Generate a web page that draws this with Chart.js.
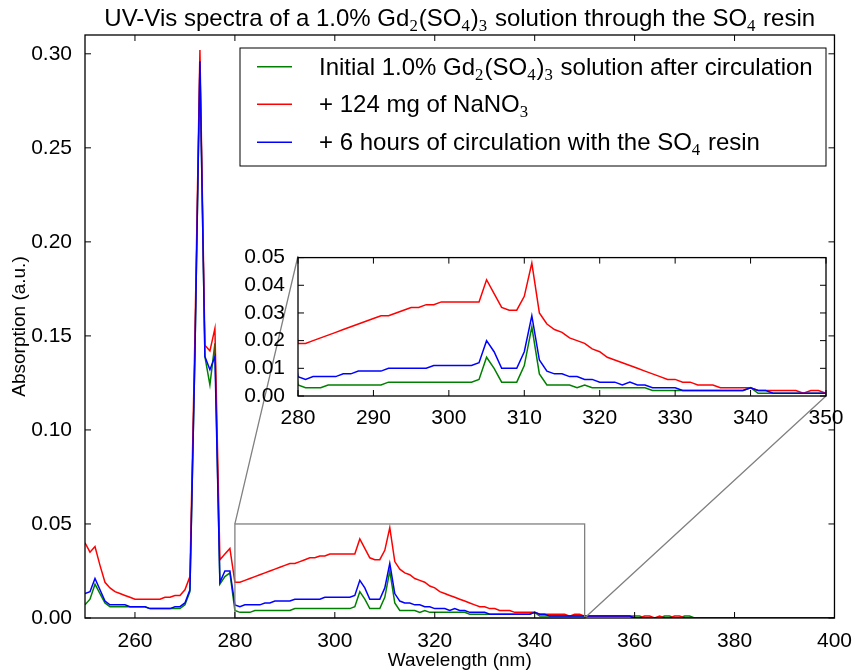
<!DOCTYPE html>
<html>
<head>
<meta charset="utf-8">
<script src="https://cdn.jsdelivr.net/npm/chart.js@4.4.1/dist/chart.umd.min.js"></script>
<style>
  body { margin: 0; background: #fff; }
  #wrap { position: relative; width: 855px; height: 672px; }
  #main { position: absolute; left: 0; top: 0; }
  #inset { position: absolute; left: 240px; top: 240px; }
</style>
</head>
<body>
<div id="wrap">
  <canvas id="main" width="855" height="672"></canvas>
  <canvas id="inset" width="615" height="190"></canvas>
</div>
<script>
// wavelength axis (nm), one reading per nm
const wavelengths = [
  250,251,252,253,254,255,256,257,258,259,
  260,261,262,263,264,265,266,267,268,269,
  270,271,272,273,274,275,276,277,278,279,
  280,281,282,283,284,285,286,287,288,289,
  290,291,292,293,294,295,296,297,298,299,
  300,301,302,303,304,305,306,307,308,309,
  310,311,312,313,314,315,316,317,318,319,
  320,321,322,323,324,325,326,327,328,329,
  330,331,332,333,334,335,336,337,338,339,
  340,341,342,343,344,345,346,347,348,349,
  350,351,352,353,354,355,356,357,358,359,
  360,361,362,363,364,365,366,367,368,369,
  370,371,372,373,374,375,376,377,378,379,
  380,381,382,383,384,385,386,387,388,389,
  390,391,392,393,394,395,396,397,398,399,
  400
];

// green: initial solution after circulation
const initialSolution = [
  0.007,0.010,0.018,0.013,0.008,0.006,0.006,0.006,0.006,0.006,
  0.006,0.006,0.006,0.005,0.005,0.005,0.005,0.005,0.005,0.005,
  0.007,0.014,0.140,0.294,0.139,0.124,0.146,0.018,0.022,0.024,
  0.004,0.003,0.003,0.003,0.004,0.004,0.004,0.004,0.004,0.004,
  0.004,0.004,0.005,0.005,0.005,0.005,0.005,0.005,0.005,0.005,
  0.005,0.005,0.005,0.005,0.006,0.014,0.010,0.005,0.005,0.005,
  0.011,0.025,0.008,0.004,0.004,0.004,0.004,0.003,0.004,0.003,
  0.003,0.003,0.003,0.003,0.003,0.003,0.003,0.002,0.002,0.002,
  0.002,0.002,0.002,0.002,0.002,0.002,0.002,0.002,0.002,0.002,
  0.003,0.001,0.001,0.001,0.001,0.001,0.001,0.001,0.001,0.001,
  0.001,0.001,0.001,0.001,0.001,0.001,0.001,0.001,0.001,0.001,
  0.001,0.001,0.000,0.000,0.000,0.000,0.001,0.001,0.000,0.000,
  0.001,0.001,0.000,0.000,0.000,0.000,0.000,0.000,0.000,0.000,
  0.000,0.000,0.000,0.000,0.000,0.000,0.000,0.000,0.000,0.000,
  0.000,0.000,0.000,0.000,0.000,0.000,0.000,0.000,0.000,0.000,
  0.000
];

// red: + 124 mg NaNO3
const withNitrate = [
  0.040,0.035,0.038,0.028,0.019,0.016,0.014,0.013,0.012,0.011,
  0.010,0.010,0.010,0.010,0.010,0.010,0.011,0.011,0.012,0.012,
  0.015,0.022,0.150,0.302,0.145,0.142,0.154,0.031,0.034,0.037,
  0.019,0.019,0.020,0.021,0.022,0.023,0.024,0.025,0.026,0.027,
  0.028,0.029,0.029,0.030,0.031,0.032,0.032,0.033,0.033,0.034,
  0.034,0.034,0.034,0.034,0.034,0.042,0.037,0.032,0.031,0.031,
  0.036,0.048,0.030,0.026,0.024,0.023,0.021,0.020,0.019,0.017,
  0.016,0.014,0.013,0.012,0.011,0.010,0.009,0.008,0.007,0.006,
  0.006,0.005,0.005,0.004,0.004,0.004,0.003,0.003,0.003,0.003,
  0.003,0.002,0.002,0.002,0.002,0.002,0.002,0.001,0.002,0.002,
  0.001,0.001,0.001,0.001,0.001,0.001,0.001,0.001,0.001,0.001,
  0.000,0.000,0.001,0.001,0.000,0.001,0.000,0.000,0.001,0.001,
  0.000,0.000,0.000,0.000,0.000,0.000,0.000,0.000,0.000,0.000,
  0.000,0.000,0.000,0.000,0.000,0.000,0.000,0.000,0.000,0.000,
  0.000,0.000,0.000,0.000,0.000,0.000,0.000,0.000,0.000,0.000,
  0.000
];

// blue: + 6 h circulation through the SO4 resin
const afterResin = [
  0.013,0.014,0.021,0.015,0.009,0.007,0.007,0.007,0.007,0.006,
  0.006,0.006,0.006,0.005,0.005,0.005,0.005,0.005,0.006,0.006,
  0.008,0.015,0.140,0.296,0.139,0.132,0.139,0.019,0.025,0.025,
  0.007,0.006,0.007,0.007,0.007,0.007,0.008,0.008,0.009,0.009,
  0.009,0.009,0.010,0.010,0.010,0.010,0.010,0.010,0.011,0.011,
  0.011,0.011,0.011,0.011,0.012,0.020,0.016,0.010,0.010,0.010,
  0.016,0.029,0.013,0.009,0.008,0.008,0.007,0.007,0.006,0.006,
  0.005,0.005,0.005,0.004,0.005,0.004,0.004,0.003,0.003,0.003,
  0.003,0.002,0.002,0.002,0.002,0.002,0.002,0.002,0.002,0.002,
  0.003,0.002,0.002,0.001,0.001,0.001,0.001,0.001,0.001,0.001,
  0.001,0.001,0.001,0.001,0.001,0.001,0.001,0.001,0.001,0.001,
  0.000,0.000,0.000,0.000,0.000,0.000,0.000,0.000,0.000,0.000,
  0.000,0.000,0.000,0.000,0.000,0.000,0.000,0.000,0.000,0.000,
  0.000,0.000,0.000,0.000,0.000,0.000,0.000,0.000,0.000,0.000,
  0.000,0.000,0.000,0.000,0.000,0.000,0.000,0.000,0.000,0.000,
  0.000
];

const seriesLabels = [
  'Initial 1.0% Gd_{2}(SO_{4})_{3} solution after circulation',
  '+ 124 mg of NaNO_{3}',
  '+ 6 hours of circulation with the SO_{4} resin'
];
const titleText = 'UV-Vis spectra of a 1.0% Gd_{2}(SO_{4})_{3} solution through the SO_{4} resin';

const xTicksMain = [260, 280, 300, 320, 340, 360, 380, 400];
const yTicksMain = [0, 0.05, 0.10, 0.15, 0.20, 0.25, 0.30];
const xTicksInset = [280, 290, 300, 310, 320, 330, 340, 350];
const yTicksInset = [0, 0.01, 0.02, 0.03, 0.04, 0.05];
const zoomRange = [280, 350, 0, 0.05];  // x0, x1, y0, y1 shown in the inset

const FONT = '"Liberation Sans", Arial, sans-serif';
const SUBFONT = '"Liberation Serif", serif';
const TICK = 6;
// inset axes box in page pixels (canvas offset 240,240)
const INSET = { left: 298, top: 256, right: 826, bottom: 396 };
const LEGEND = { left: 240, top: 48, right: 826, bottom: 166, rows: [66.7, 104.3, 142.3], line0: 257, line1: 292, textX: 319 };

// text with _{...} subscripts
function drawRich(ctx, text, x, y, size, align) {
  const parts = [];
  const re = /_\{([^}]*)\}/g;
  let last = 0, m;
  while ((m = re.exec(text)) !== null) {
    if (m.index > last) parts.push({ t: text.slice(last, m.index), sub: false });
    parts.push({ t: m[1], sub: true });
    last = re.lastIndex;
  }
  if (last < text.length) parts.push({ t: text.slice(last), sub: false });
  const fNorm = size + 'px ' + FONT;
  const fSub = (size * 0.7).toFixed(1) + 'px ' + SUBFONT;
  let total = 0;
  parts.forEach(p => { ctx.font = p.sub ? fSub : fNorm; p.w = ctx.measureText(p.t).width + (p.sub ? 1 : 0); total += p.w; });
  let cx = align === 'center' ? x - total / 2 : x;
  ctx.textBaseline = 'alphabetic';
  ctx.textAlign = 'left';
  parts.forEach(p => {
    ctx.font = p.sub ? fSub : fNorm;
    ctx.fillText(p.t, cx, p.sub ? y + size * 0.22 : y);
    cx += p.w;
  });
}

function drawFrame(chart) {
  const { ctx, chartArea: a, scales: { x, y } } = chart;
  ctx.save();
  ctx.strokeStyle = '#000';
  ctx.lineWidth = 1;
  ctx.beginPath();
  x.ticks.forEach(t => {
    const px = x.getPixelForValue(t.value);
    ctx.moveTo(px, a.bottom); ctx.lineTo(px, a.bottom - TICK);
    ctx.moveTo(px, a.top); ctx.lineTo(px, a.top + TICK);
  });
  y.ticks.forEach(t => {
    const py = y.getPixelForValue(t.value);
    ctx.moveTo(a.left, py); ctx.lineTo(a.left + TICK, py);
    ctx.moveTo(a.right, py); ctx.lineTo(a.right - TICK, py);
  });
  ctx.stroke();
  ctx.lineWidth = 1.3;
  ctx.strokeRect(a.left, a.top, a.right - a.left, a.bottom - a.top);
  ctx.restore();
}

function axis(min, max, ticks, fmt, size, horizontal, pad, title) {
  return {
    type: 'linear', min: min, max: max,
    grid: { display: false }, border: { display: false },
    afterBuildTicks: s => { s.ticks = ticks.map(v => ({ value: v })); },
    afterFit: s => { if (horizontal) s.height = size; else s.width = size; },
    ticks: { color: '#000', font: { family: FONT, size: 21 }, padding: pad, autoSkip: false, maxRotation: 0, callback: v => fmt(v) },
    title: title
  };
}

function makeDatasets() {
  const pts = arr => wavelengths.map((w, i) => ({ x: w, y: arr[i] }));
  return [
    { label: seriesLabels[0], data: pts(initialSolution), borderColor: '#008000', order: 3 },
    { label: seriesLabels[1], data: pts(withNitrate), borderColor: '#ff0000', order: 2 },
    { label: seriesLabels[2], data: pts(afterResin), borderColor: '#0000ff', order: 1 }
  ].map(d => Object.assign({ borderWidth: 1.5, pointRadius: 0, fill: false, tension: 0 }, d));
}

const mainDecor = {
  id: 'mainDecor',
  afterDatasetsDraw(chart) {
    const { ctx, scales: { x, y } } = chart;
    const rx0 = x.getPixelForValue(zoomRange[0]), rx1 = x.getPixelForValue(zoomRange[1]);
    const ry0 = y.getPixelForValue(zoomRange[2]), ry1 = y.getPixelForValue(zoomRange[3]);
    ctx.save();
    ctx.strokeStyle = '#808080';
    ctx.lineWidth = 1.3;
    ctx.strokeRect(rx0, ry1, rx1 - rx0, ry0 - ry1);
    ctx.beginPath();
    ctx.moveTo(rx0, ry1); ctx.lineTo(INSET.left, INSET.top);
    ctx.moveTo(rx1, ry0); ctx.lineTo(INSET.right, INSET.bottom);
    ctx.stroke();
    ctx.restore();
    drawFrame(chart);
  },
  afterDraw(chart) {
    const { ctx, chartArea: a } = chart;
    ctx.save();
    ctx.fillStyle = '#fff';
    ctx.fillRect(LEGEND.left, LEGEND.top, LEGEND.right - LEGEND.left, LEGEND.bottom - LEGEND.top);
    ctx.strokeStyle = '#000';
    ctx.lineWidth = 1;
    ctx.strokeRect(LEGEND.left, LEGEND.top, LEGEND.right - LEGEND.left, LEGEND.bottom - LEGEND.top);
    chart.data.datasets.forEach((d, i) => {
      const ry = LEGEND.rows[i];
      ctx.strokeStyle = d.borderColor;
      ctx.lineWidth = 1.5;
      ctx.beginPath(); ctx.moveTo(LEGEND.line0, ry); ctx.lineTo(LEGEND.line1, ry); ctx.stroke();
      ctx.fillStyle = '#000';
      drawRich(ctx, d.label, LEGEND.textX, ry + 7.8, 24, 'left');
    });
    ctx.fillStyle = '#000';
    drawRich(ctx, titleText, (a.left + a.right) / 2, 26, 24, 'center');
    ctx.restore();
  }
};

const insetDecor = {
  id: 'insetDecor',
  beforeDatasetsDraw(chart) {
    const { ctx, chartArea: a } = chart;
    ctx.save();
    ctx.fillStyle = '#fff';
    ctx.fillRect(a.left, a.top, a.right - a.left, a.bottom - a.top);
    ctx.restore();
  },
  afterDatasetsDraw(chart) { drawFrame(chart); }
};

new Chart(document.getElementById('main'), {
  type: 'line',
  data: { datasets: makeDatasets() },
  options: {
    responsive: false, animation: false, events: [],
    layout: { padding: { top: 35, right: 18, left: 0, bottom: 0 } },
    plugins: { legend: { display: false }, tooltip: { enabled: false }, title: { display: false } },
    scales: {
      x: axis(250, 400, xTicksMain, v => String(v), 54, true, 3,
        { display: true, text: 'Wavelength (nm)', color: '#000', font: { family: FONT, size: 19 }, padding: { top: 0, bottom: 0 } }),
      y: axis(0, 0.31, yTicksMain, v => v.toFixed(2), 85, false, 5,
        { display: true, text: 'Absorption (a.u.)', color: '#000', font: { family: FONT, size: 19 }, padding: { top: 8, bottom: 0 } })
    }
  },
  plugins: [mainDecor]
});

new Chart(document.getElementById('inset'), {
  type: 'line',
  data: { datasets: makeDatasets() },
  options: {
    responsive: false, animation: false, events: [],
    layout: { padding: { top: 16, right: 29, left: 0, bottom: 0 } },
    plugins: { legend: { display: false }, tooltip: { enabled: false }, title: { display: false } },
    scales: {
      x: axis(zoomRange[0], zoomRange[1], xTicksInset, v => String(v), 34, true, 2, { display: false }),
      y: axis(zoomRange[2], zoomRange[3], yTicksInset, v => v.toFixed(2), 58, false, 5, { display: false })
    }
  },
  plugins: [insetDecor]
});
</script>
</body>
</html>
